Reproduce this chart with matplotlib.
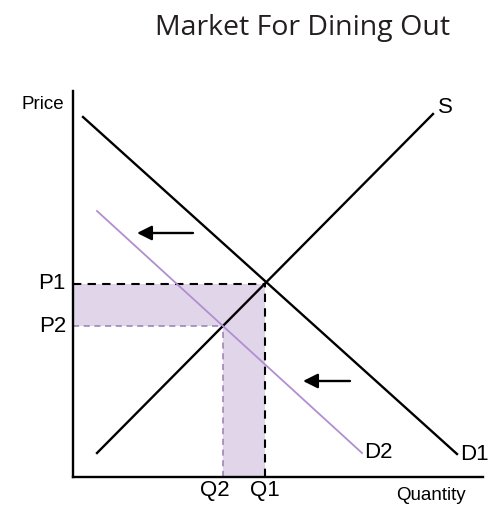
import matplotlib
matplotlib.use("Agg")
import matplotlib.pyplot as plt

# curves (quantity, price) in chart units
supply_q = [24, 360]
supply_p = [24, 363]
d1_q = [10, 384]
d1_p = [360, 23]
d2_q = [24, 289]
d2_p = [266, 24]

q1, q2 = 192, 150
p1, p2 = 193, 151

tick_labels_p = ["P1", "P2"]
tick_labels_q = ["Q2", "Q1"]

# shift arrows (tail -> tip)
arrows = [((120, 244), (64, 244)), ((277, 96), (230, 96))]

purple = "#b18fcf"
purple_dash = "#9b7bb8"
shade = "#e1d5e9"
lab_font = "Liberation Sans"
lab_size = 16

fig = plt.figure(figsize=(4.92, 5.05), dpi=100)
ax = fig.add_axes([73 / 492, 28 / 505, 410 / 492, 386 / 505])
ax.set_xlim(0, 410)
ax.set_ylim(0, 386)
for s in ["top", "right"]:
    ax.spines[s].set_visible(False)
for s in ["left", "bottom"]:
    ax.spines[s].set_linewidth(1.7)
ax.set_xticks([])
ax.set_yticks([])

# shaded change in spending
ax.fill([0, 0, q1, q1, q2, q2], [p2, p1, p1, 0, 0, p2], color=shade, lw=0, zorder=1)

ax.plot([0, q1], [p1, p1], "--", color="black", lw=1.5, dashes=(4, 3), zorder=2)
ax.plot([q1, q1], [0, p1], "--", color="black", lw=1.5, dashes=(4, 3), zorder=2)
ax.plot([0, q2], [p2, p2], "--", color=purple_dash, lw=1.1, dashes=(4, 3), zorder=2)
ax.plot([q2, q2], [0, p2], "--", color=purple_dash, lw=1.1, dashes=(4, 3), zorder=2)

ax.plot(supply_q, supply_p, color="black", lw=1.7, zorder=3)
ax.plot(d1_q, d1_p, color="black", lw=1.7, zorder=3)
ax.plot(d2_q, d2_p, color=purple, lw=1.3, zorder=3)

for tail, tip in arrows:
    ax.annotate("", xy=tip, xytext=tail,
                arrowprops=dict(arrowstyle="-|>", color="black", lw=1.7,
                                mutation_scale=22, shrinkA=0, shrinkB=0))

ax.text(supply_q[1] + 5, supply_p[1] + 6, "S", fontsize=lab_size, family=lab_font,
        ha="left", va="center")
ax.text(d1_q[1] + 3, d1_p[1], "D1", fontsize=lab_size, family=lab_font,
        ha="left", va="center")
ax.text(d2_q[1] + 2, d2_p[1], "D2", fontsize=lab_size, family=lab_font,
        ha="left", va="center")

for lab, p in zip(tick_labels_p, [p1, p2]):
    ax.text(-7, p, lab, fontsize=lab_size, family=lab_font, ha="right", va="center")
for lab, q in zip(tick_labels_q, [q2 - 8, q1]):
    ax.text(q, -3, lab, fontsize=lab_size, family=lab_font, ha="center", va="top")

ax.text(-9, 372, "Price", fontsize=13.5, family=lab_font, ha="right", va="center")
ax.text(358, -19, "Quantity", fontsize=13.5, family=lab_font, ha="center", va="center")

fig.text(303 / 492, 1 - 35 / 505, "Market For Dining Out", fontsize=20.5,
         family="Open Sans", ha="center", va="baseline", color="#231f20")

fig.savefig("out.png", dpi=100)
